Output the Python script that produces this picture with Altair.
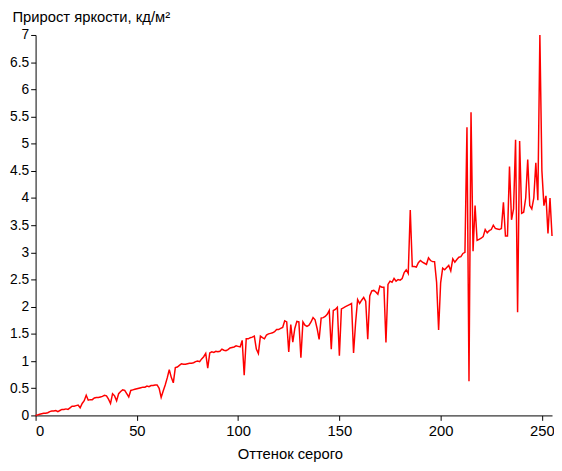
import altair as alt
import pandas as pd

gray = list(range(256))
increment = [
    0.00, 0.01, 0.02, 0.03, 0.04, 0.04, 0.05, 0.07, 0.08, 0.08,
    0.09, 0.07, 0.09, 0.11, 0.11, 0.12, 0.11, 0.14, 0.17, 0.17,
    0.18, 0.19, 0.14, 0.22, 0.27, 0.37, 0.28, 0.29, 0.29, 0.32,
    0.33, 0.33, 0.34, 0.35, 0.37, 0.36, 0.30, 0.22, 0.40, 0.36,
    0.27, 0.40, 0.44, 0.47, 0.46, 0.40, 0.34, 0.46, 0.47, 0.48,
    0.49, 0.50, 0.51, 0.52, 0.52, 0.54, 0.53, 0.55, 0.55, 0.56,
    0.56, 0.50, 0.33, 0.45, 0.56, 0.69, 0.84, 0.70, 0.60, 0.88,
    0.89, 0.92, 0.95, 0.94, 0.94, 0.95, 0.96, 0.96, 0.97, 0.99,
    1.00, 0.99, 1.04, 1.08, 1.14, 0.87, 1.15, 1.17, 1.16, 1.18,
    1.17, 1.18, 1.22, 1.20, 1.19, 1.21, 1.24, 1.25, 1.26, 1.28,
    1.27, 1.26, 1.38, 0.74, 1.41, 1.41, 1.43, 1.44, 1.46, 1.22,
    1.14, 1.46, 1.43, 1.41, 1.48, 1.50, 1.51, 1.52, 1.54, 1.58,
    1.58, 1.60, 1.62, 1.74, 1.72, 1.17, 1.67, 1.35, 1.60, 1.73,
    1.72, 1.06, 1.72, 1.66, 1.64, 1.66, 1.72, 1.80, 1.76, 1.60,
    1.40, 1.79, 1.80, 1.82, 1.86, 1.93, 1.22, 1.93, 1.95, 1.99,
    1.10, 1.96, 1.98, 2.00, 2.02, 2.04, 2.06, 1.15, 1.70, 2.13,
    2.06, 2.12, 2.17, 2.10, 1.40, 2.20, 2.29, 2.30, 2.27, 2.23,
    2.38, 2.36, 2.36, 1.34, 2.41, 2.47, 2.45, 2.52, 2.47, 2.50,
    2.49, 2.52, 2.63, 2.68, 2.61, 3.78, 2.74, 2.74, 2.73, 2.81,
    2.85, 2.82, 2.80, 2.78, 2.90, 2.85, 2.83, 2.83, 2.45, 1.57,
    2.44, 2.71, 2.68, 2.72, 2.76, 2.66, 2.88, 2.82, 2.87, 2.91,
    2.92, 2.98, 3.00, 5.30, 0.63, 5.58, 3.02, 3.86, 3.22, 3.24,
    3.26, 3.29, 3.42, 3.36, 3.40, 3.42, 3.50, 3.44, 3.43, 3.42,
    3.44, 3.92, 3.30, 3.30, 4.58, 3.60, 3.80, 5.07, 1.90, 5.05,
    3.72, 3.74, 4.00, 4.71, 3.86, 3.80, 4.00, 4.65, 3.96, 7.00,
    4.50, 3.86, 4.04, 3.35, 4.00, 3.30,
]
x_ticks = [0, 50, 100, 150, 200, 250]
y_ticks = [0, 0.5, 1, 1.5, 2, 2.5, 3, 3.5, 4, 4.5, 5, 5.5, 6, 6.5, 7]

df = pd.DataFrame({"gray": gray, "inc": increment})

FONT = "Liberation Sans"

chart = alt.Chart(df).mark_line(color="#ff0000", strokeWidth=1.5).encode(
    x=alt.X("gray:Q",
            scale=alt.Scale(domain=[0, 255], nice=False, zero=False),
            axis=alt.Axis(values=x_ticks, format="d", title="Оттенок серого",
                          grid=False, tickSize=5, labelPadding=3, labelFontSize=15,
                          titlePadding=9, titleX=258, domainColor="black", tickColor="black")),
    y=alt.Y("inc:Q",
            scale=alt.Scale(domain=[0, 7], nice=False),
            axis=alt.Axis(values=y_ticks, format="~g", title="Прирост яркости, кд/м²",
                          grid=False, tickSize=5, labelPadding=2, labelFontSize=14,
                          titleAngle=0, titleAlign="left", titleBaseline="alphabetic",
                          titleX=-24, titleY=-14,
                          domainColor="black", tickColor="black")),
).properties(
    width=524, height=386,
    autosize=alt.AutoSizeParams(type="none"),
    padding={"left": 28, "top": 24, "right": 2, "bottom": 52},
).configure_view(stroke=None).configure_axis(
    labelFont=FONT, titleFont=FONT, titleFontSize=15,
    labelColor="black", titleColor="black", titleFontWeight="normal",
    domainWidth=1, tickWidth=1,
)

chart.save("out.html", embed_options={"renderer": "svg", "actions": False})
